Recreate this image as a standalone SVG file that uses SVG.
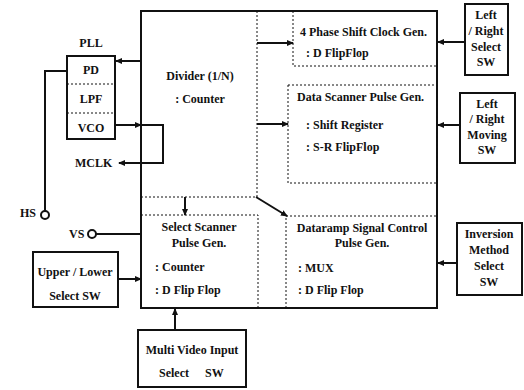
<svg xmlns="http://www.w3.org/2000/svg" width="524" height="390" viewBox="0 0 524 390" font-family="'Liberation Serif', 'DejaVu Serif', 'Times New Roman', serif">
<style>
text{font-family:'Liberation Serif','DejaVu Serif','Times New Roman',serif;font-size:12px;font-weight:bold;fill:#111}
.box{fill:none;stroke:#111;stroke-width:2}
.dot{fill:none;stroke:#111;stroke-width:1;stroke-dasharray:2,2}
.ln{fill:none;stroke:#111;stroke-width:2}
.m{text-anchor:middle}
</style>
<defs>
<marker id="ah" markerWidth="7" markerHeight="6" refX="6" refY="3" orient="auto" markerUnits="userSpaceOnUse">
<path d="M0,0 L7,3 L0,6 Z" fill="#111"/>
</marker>
</defs>
<rect width="524" height="390" fill="#fff"/>

<g id="main">
<rect class="box" x="141" y="11" width="296" height="297"/>
<path class="dot" d="M257,11 V197 H141"/>
<text class="m" x="200" y="80">Divider (1/N)</text>
<text class="m" x="200" y="103">: Counter</text>
</g>

<g id="phase4">
<path class="dot" d="M293,11 V66 H437"/>
<text x="300" y="36">4 Phase Shift Clock Gen.</text>
<text x="306" y="57">: D FlipFlop</text>
</g>

<g id="datascanner">
<rect class="dot" x="288" y="85" width="149" height="98"/>
<text x="297" y="101">Data Scanner Pulse Gen.</text>
<text x="306" y="129">: Shift Register</text>
<text x="306" y="151">: S-R FlipFlop</text>
</g>

<g id="selectscanner">
<path class="dot" d="M141,215 H258 V308"/>
<text class="m" x="199" y="231">Select Scanner</text>
<text class="m" x="199" y="247">Pulse Gen.</text>
<text x="155" y="271">: Counter</text>
<text x="155" y="294">: D Flip Flop</text>
</g>

<g id="dataramp">
<path class="dot" d="M286,308 V216 H437"/>
<text class="m" x="362" y="232">Dataramp Signal Control</text>
<text class="m" x="362" y="247">Pulse Gen.</text>
<text x="298" y="272">: MUX</text>
<text x="298" y="294">: D Flip Flop</text>
</g>

<g id="pll">
<rect class="box" x="67" y="56" width="48" height="83"/>
<line class="dot" x1="67" y1="84" x2="115" y2="84"/>
<line class="dot" x1="67" y1="113" x2="115" y2="113"/>
<text class="m" x="91" y="47">PLL</text>
<text class="m" x="91" y="74">PD</text>
<text class="m" x="91" y="103">LPF</text>
<text class="m" x="91" y="132">VCO</text>
</g>

<g id="mclk"><text x="75" y="167">MCLK</text></g>

<g id="hs">
<circle cx="45" cy="215" r="4" fill="#fff" stroke="#111" stroke-width="2"/>
<text x="20" y="217">HS</text>
</g>

<g id="vs">
<circle cx="92" cy="234" r="4" fill="#fff" stroke="#111" stroke-width="2"/>
<text x="69" y="238">VS</text>
</g>

<g id="upperlower">
<rect class="box" x="33" y="252" width="85" height="55"/>
<text class="m" x="75" y="276">Upper / Lower</text>
<text class="m" x="75" y="300">Select SW</text>
</g>

<g id="multivideo">
<rect class="box" x="138" y="330" width="108" height="57"/>
<text class="m" x="192" y="354">Multi Video Input</text>
<text x="159" y="377">Select</text>
<text x="205" y="377">SW</text>
</g>

<g id="lrselect">
<rect class="box" x="465" y="4" width="43" height="71"/>
<text class="m" x="486" y="19">Left</text>
<text class="m" x="486" y="35">/ Right</text>
<text class="m" x="486" y="51">Select</text>
<text class="m" x="486" y="66">SW</text>
</g>

<g id="lrmoving">
<rect class="box" x="460" y="93" width="55" height="70"/>
<text class="m" x="487" y="108">Left</text>
<text class="m" x="487" y="123">/ Right</text>
<text class="m" x="487" y="139">Moving</text>
<text class="m" x="487" y="154">SW</text>
</g>

<g id="inversion">
<rect class="box" x="457" y="223" width="65" height="72"/>
<text class="m" x="489" y="238">Inversion</text>
<text class="m" x="489" y="254">Method</text>
<text class="m" x="489" y="270">Select</text>
<text class="m" x="489" y="286">SW</text>
</g>

<g id="connectors">
<line class="ln" x1="141" y1="61" x2="116" y2="61" marker-end="url(#ah)"/>
<line class="ln" x1="115" y1="125" x2="141" y2="125" marker-end="url(#ah)"/>
<path class="ln" d="M141,125 H163 V163 H119" marker-end="url(#ah)"/>
<path class="ln" d="M67,71 H45 V211"/>
<line class="ln" x1="96" y1="234" x2="141" y2="234"/>
<line class="ln" x1="118" y1="279" x2="141" y2="279" marker-end="url(#ah)"/>
<line class="ln" x1="175" y1="330" x2="175" y2="309" marker-end="url(#ah)"/>
<line class="ln" x1="257" y1="43" x2="293" y2="43" marker-end="url(#ah)"/>
<line class="ln" x1="257" y1="124" x2="288" y2="124" marker-end="url(#ah)"/>
<line class="ln" x1="185" y1="197" x2="185" y2="215" marker-end="url(#ah)"/>
<line class="ln" x1="256" y1="197" x2="287" y2="216" marker-end="url(#ah)"/>
<line class="ln" x1="465" y1="42" x2="438" y2="42" marker-end="url(#ah)"/>
<line class="ln" x1="460" y1="125" x2="438" y2="125" marker-end="url(#ah)"/>
<line class="ln" x1="457" y1="263" x2="438" y2="263" marker-end="url(#ah)"/>
</g>
</svg>
